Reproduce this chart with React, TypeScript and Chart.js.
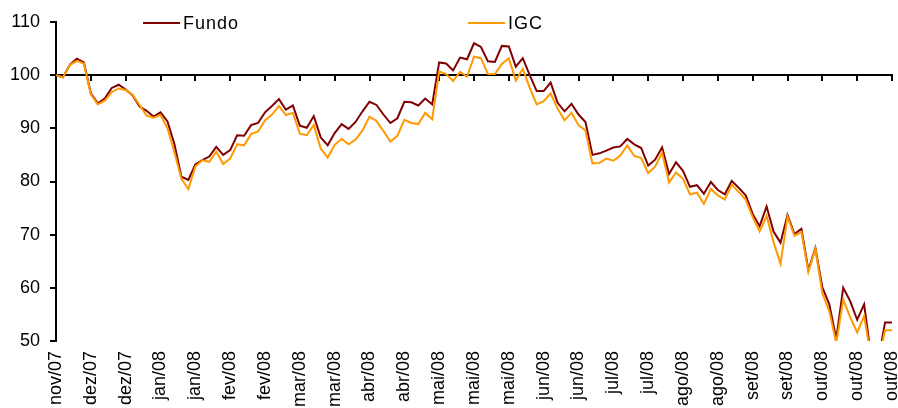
import React, { useEffect, useRef } from 'react';
import { Chart, registerables } from 'chart.js';

Chart.register(...registerables);

const tickLabels = [
  'nov/07', 'dez/07', 'dez/07', 'jan/08', 'jan/08', 'fev/08', 'fev/08', 'mar/08', 'mar/08',
  'abr/08', 'abr/08', 'mai/08', 'mai/08', 'mai/08', 'jun/08', 'jun/08', 'jul/08', 'jul/08',
  'ago/08', 'ago/08', 'set/08', 'set/08', 'out/08', 'out/08', 'out/08',
];

const fundo = [
  100, 99.6, 102.0, 103.1, 102.4, 96.6, 94.7, 95.6, 97.6, 98.2,
  97.3, 96.2, 94.1, 93.3, 92.2, 93.0, 91.3, 87.0, 80.9, 80.3,
  83.2, 84.0, 84.7, 86.5, 85.0, 85.9, 88.7, 88.6, 90.6, 91.0,
  93.0, 94.2, 95.5, 93.5, 94.3, 90.5, 90.1, 92.3, 88.3, 86.8,
  89.1, 90.8, 89.9, 91.2, 93.2, 95.0, 94.4, 92.6, 91.0, 91.9,
  95.0, 94.9, 94.3, 95.6, 94.5, 102.4, 102.2, 100.9, 103.3, 103.0,
  106.0, 105.3, 102.6, 102.5, 105.5, 105.4, 101.6, 103.2, 100.0, 97.0,
  97.0, 98.6, 94.8, 93.2, 94.6, 92.6, 91.2, 85.0, 85.3, 85.8,
  86.4, 86.6, 88.0, 87.0, 86.3, 83.0, 84.1, 86.4, 81.4, 83.6,
  82.0, 79.0, 79.3, 77.7, 79.9, 78.4, 77.6, 80.1, 78.8, 77.4,
  73.9, 71.6, 75.3, 70.6, 68.5, 73.7, 70.1, 71.1, 63.3, 67.5,
  60.1, 56.9, 50.4, 60.0, 57.5, 54.0, 56.9, 47.0, 46.0, 53.5,
  53.5,
];

const igc = [
  100, 99.6, 101.9, 102.7, 102.2, 96.4, 94.5, 95.2, 96.8, 97.5,
  97.2, 96.3, 94.4, 92.4, 92.0, 92.5, 90.0, 85.5, 80.5, 78.6,
  82.8, 84.0, 83.7, 85.6, 83.3, 84.3, 87.0, 86.8, 88.9, 89.4,
  91.5, 92.6, 94.2, 92.5, 92.9, 89.0, 88.7, 90.6, 86.2, 84.5,
  86.9, 88.0, 87.0, 87.9, 89.6, 92.2, 91.4, 89.5, 87.5, 88.6,
  91.6, 91.0, 90.8, 92.9, 91.7, 100.7, 100.2, 98.9, 100.6, 99.7,
  103.5, 103.2, 100.2, 100.2, 102.1, 103.2, 99.0, 101.2, 97.6, 94.5,
  95.1, 96.6, 93.7, 91.5, 92.9, 90.6, 89.6, 83.4, 83.5, 84.3,
  83.9, 84.9, 86.8, 84.8, 84.4, 81.6, 82.8, 85.4, 79.8, 81.7,
  80.5, 77.6, 77.9, 75.8, 78.6, 77.4, 76.6, 79.4, 78.0, 76.6,
  73.3, 70.6, 73.5, 68.6, 64.5, 73.4, 69.8, 70.5, 63.0, 67.3,
  59.0, 55.6, 49.6, 57.8, 54.5, 51.6, 54.7, 47.0, 46.0, 52.0,
  52.0,
];

const seriesNames = ['Fundo', 'IGC'];
const seriesColors = ['#800000', '#FF9900'];
const yTicks = { min: 50, max: 110, step: 10 };
const LABEL_EVERY = 5;

const categories = fundo.map((_, i) => (i % LABEL_EVERY === 0 ? tickLabels[i / LABEL_EVERY] : ''));

const FONT = "'Liberation Sans', Arial, Helvetica, sans-serif";

const topLegend = {
  id: 'topLegend',
  afterDraw(chart: any) {
    const { ctx, chartArea } = chart;
    const y = chartArea.top + 1;
    const offsets = [87, 412];
    ctx.save();
    ctx.font = `18px ${FONT}`;
    ctx.textBaseline = 'middle';
    ctx.textAlign = 'left';
    (ctx as any).letterSpacing = '1px';
    chart.data.datasets.forEach((ds: any, i: number) => {
      const x = chartArea.left + offsets[i];
      ctx.strokeStyle = ds.borderColor;
      ctx.lineWidth = 2;
      ctx.beginPath();
      ctx.moveTo(x, y);
      ctx.lineTo(x + 37, y);
      ctx.stroke();
      ctx.fillStyle = '#000';
      ctx.fillText(ds.label, x + 40, y + 1);
    });
    ctx.restore();
  },
};

export default function App() {
  const ref = useRef<HTMLCanvasElement | null>(null);

  useEffect(() => {
    document.body.style.margin = '0';
    const canvas = ref.current;
    if (!canvas) return;
    const chart = new Chart(canvas, {
      type: 'line',
      data: {
        labels: categories,
        datasets: [
          {
            label: seriesNames[0],
            data: fundo,
            borderColor: seriesColors[0],
            backgroundColor: seriesColors[0],
            borderWidth: 2,
            pointRadius: 0,
            tension: 0,
            order: 1,
          },
          {
            label: seriesNames[1],
            data: igc,
            borderColor: seriesColors[1],
            backgroundColor: seriesColors[1],
            borderWidth: 2,
            pointRadius: 0,
            tension: 0,
            order: 0,
          },
        ],
      },
      options: {
        animation: false,
        responsive: false,
        maintainAspectRatio: false,
        devicePixelRatio: 1,
        layout: { padding: { left: 0, top: 22, right: 6, bottom: 0 } },
        plugins: {
          legend: { display: false },
          tooltip: { enabled: false },
        },
        scales: {
          x: {
            type: 'category',
            position: 'bottom',
            offset: false,
            grid: { display: false, drawTicks: false },
            border: { display: false },
            ticks: {
              autoSkip: false,
              maxRotation: 90,
              minRotation: 90,
              padding: 10,
              color: '#000',
              font: { family: FONT, size: 18 },
            },
            afterFit: (s: any) => {
              s.height = 67;
              s.paddingLeft = 0;
              s.paddingRight = 0;
            },
          },
          x2: {
            type: 'category',
            position: { y: 100 },
            offset: false,
            ticks: { display: false },
            grid: {
              drawOnChartArea: false,
              drawTicks: true,
              tickLength: 5,
              lineWidth: 2,
              color: (c: any) => (c.index % LABEL_EVERY === 0 ? '#000' : 'rgba(0,0,0,0)'),
            },
            border: { display: true, color: '#000', width: 2 },
          },
          y: {
            min: yTicks.min,
            max: yTicks.max,
            position: 'left',
            ticks: {
              stepSize: yTicks.step,
              padding: 10,
              color: '#000',
              font: { family: FONT, size: 18 },
            },
            grid: {
              drawOnChartArea: false,
              drawTicks: true,
              tickLength: 6,
              lineWidth: 2,
              color: '#000',
            },
            border: { display: true, color: '#000', width: 2 },
            afterFit: (s: any) => {
              s.width = 56;
            },
          },
        },
      },
      plugins: [topLegend],
    });
    return () => chart.destroy();
  }, []);

  return (
    <div style={{ width: 898, height: 408, position: 'relative', background: '#fff' }}>
      <canvas ref={ref} width={898} height={408} style={{ display: 'block' }} />
    </div>
  );
}
